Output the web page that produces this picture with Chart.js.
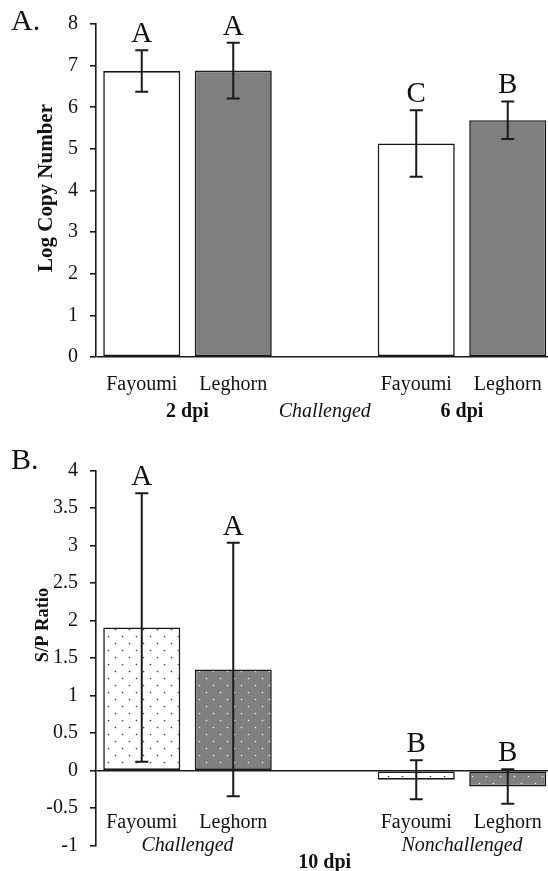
<!DOCTYPE html>
<html><head><meta charset="utf-8">
<script src="https://cdn.jsdelivr.net/npm/chart.js@4"></script>
<style>
html,body{margin:0;padding:0;background:#fff;overflow:hidden;width:548px;height:871px;position:relative;}
canvas{position:absolute;left:0;}
#cA{top:0}
#cB{top:430px}
</style></head><body>
<canvas id="cA" width="556" height="430"></canvas>
<canvas id="cB" width="556" height="441"></canvas>
<script>
// ---- data ----
const categories = ['Fayoumi', 'Leghorn', '', 'Fayoumi', 'Leghorn'];

// Panel A: Log copy number (challenged, 2 dpi / 6 dpi)
const copyNumber    = [6.87, 6.88, null, 5.13, 5.69];
const copyNumberErr = [0.50, 0.67, null, 0.80, 0.45];
const copyLetters   = ['A', 'A', '', 'C', 'B'];
const copyRange     = [0, 8, 1];          // min, max, step
const copyGroups    = ['2 dpi', 'Challenged', '6 dpi'];

// Panel B: S/P ratio (10 dpi, challenged / nonchallenged)
const spRatio       = [1.91, 1.35, null, -0.12, -0.21];
const spRatioErr    = [1.79, 1.69, null, 0.26, 0.23];
const spLetters     = ['A', 'A', '', 'B', 'B'];
const spRange       = [-1, 4, 0.5];
const spGroups      = ['Challenged', '10 dpi', 'Nonchallenged'];

// ---- styling ----
const FONT = "'Liberation Serif','Times New Roman',serif";
const INK = '#1a1a1a';
const GRAY = '#7f7f7f';

function makePattern(targetCtx, bg, dot) {
  const c = document.createElement('canvas');
  c.width = 14; c.height = 14;
  const g = c.getContext('2d');
  g.fillStyle = bg; g.fillRect(0, 0, 14, 14);
  g.fillStyle = dot;
  g.beginPath(); g.arc(3.5, 3.5, 0.85, 0, Math.PI * 2); g.fill();
  g.beginPath(); g.arc(10.5, 10.5, 0.85, 0, Math.PI * 2); g.fill();
  return targetCtx.createPattern(c, 'repeat');
}

const extras = {
  id: 'extras',
  afterDatasetsDraw(chart, args, o) {
    const {ctx} = chart;
    const x = chart.scales.x, y = chart.scales.y;
    ctx.save();
    // error bars + letters
    ctx.strokeStyle = INK; ctx.lineWidth = 2;
    o.values.forEach((v, i) => {
      if (v == null) return;
      const cx = x.getPixelForValue(i);
      const yt = y.getPixelForValue(v + o.errors[i]);
      const yb = y.getPixelForValue(v - o.errors[i]);
      ctx.beginPath();
      ctx.moveTo(cx, yt); ctx.lineTo(cx, yb);
      ctx.moveTo(cx - 6.5, yt); ctx.lineTo(cx + 6.5, yt);
      ctx.moveTo(cx - 6.5, yb); ctx.lineTo(cx + 6.5, yb);
      ctx.stroke();
      ctx.fillStyle = '#111';
      ctx.font = '29px ' + FONT;
      ctx.textAlign = 'center'; ctx.textBaseline = 'alphabetic';
      ctx.fillText(o.letters[i], cx, yt - 8);
    });
    // category labels
    ctx.fillStyle = '#111';
    ctx.font = '20px ' + FONT;
    ctx.textAlign = 'center';
    categories.forEach((c, i) => {
      if (!c) return;
      ctx.fillText(c, x.getPixelForValue(i), o.catY);
    });
    // group labels
    o.groups.forEach(gr => {
      let px;
      if (gr.pair) px = (x.getPixelForValue(gr.pair[0]) + x.getPixelForValue(gr.pair[1])) / 2;
      else px = x.getPixelForValue(gr.at);
      ctx.font = gr.style + ' 20px ' + FONT;
      ctx.fillText(gr.text, px, gr.y);
    });
    // axis title
    ctx.save();
    ctx.translate(o.titleX, o.titleY);
    ctx.rotate(-Math.PI / 2);
    ctx.font = 'bold ' + o.titleSize + 'px ' + FONT;
    ctx.textAlign = 'center';
    ctx.fillText(o.title, 0, 0);
    ctx.restore();
    // panel label
    ctx.font = '30px ' + FONT;
    ctx.textAlign = 'left';
    ctx.fillText(o.panel, 11, o.panelY);
    ctx.restore();
  }
};

function yScale(range) {
  return {
    min: range[0], max: range[1],
    ticks: {
      stepSize: range[2], color: '#111', font: { family: FONT, size: 20 }, padding: 12,
      callback: v => String(Math.round(v * 100) / 100)
    },
    grid: {
      display: true, drawOnChartArea: true, drawTicks: true, tickLength: 6,
      color: c => (c.tick && c.tick.value === 0) ? INK : 'rgba(0,0,0,0)',
      lineWidth: 1.6, tickColor: INK, tickWidth: 1.6
    },
    border: { display: true, color: INK, width: 1.6 },
    afterFit: s => { s.width = 96; }
  };
}

function buildChart(id, values, errors, letters, range, bg, pad, pluginOpts) {
  return new Chart(document.getElementById(id), {
    type: 'bar',
    data: {
      labels: categories,
      datasets: [{
        data: values,
        backgroundColor: bg,
        borderColor: INK,
        borderWidth: 1.6,
        borderSkipped: false,
        barPercentage: 0.842,
        categoryPercentage: 1.0
      }]
    },
    options: {
      responsive: false,
      animation: false,
      layout: { padding: pad },
      scales: {
        x: { display: false },
        y: yScale(range)
      },
      plugins: {
        legend: { display: false },
        tooltip: { enabled: false },
        extras: Object.assign({ values, errors, letters }, pluginOpts)
      }
    },
    plugins: [extras]
  });
}

buildChart('cA', copyNumber, copyNumberErr, copyLetters, copyRange,
  ['#ffffff', GRAY, '#ffffff', '#ffffff', GRAY],
  { left: 0, top: 24, right: 2.5, bottom: 73 },
  {
    catY: 390,
    groups: [
      { text: copyGroups[0], pair: [0, 1], style: 'bold', y: 417 },
      { text: copyGroups[1], at: 2, style: 'italic', y: 417 },
      { text: copyGroups[2], pair: [3, 4], style: 'bold', y: 417 }
    ],
    title: 'Log Copy Number', titleSize: 21, titleX: 51.5, titleY: 188,
    panel: 'A.', panelY: 30
  });

const ctxB = document.getElementById('cB').getContext('2d');
const patW = makePattern(ctxB, '#ffffff', '#444444');
const patG = makePattern(ctxB, GRAY, '#e6e6e6');
buildChart('cB', spRatio, spRatioErr, spLetters, spRange,
  [patW, patG, patW, patW, patG],
  { left: 0, top: 40.7, right: 2.5, bottom: 25.3 },
  {
    catY: 398,
    groups: [
      { text: spGroups[0], pair: [0, 1], style: 'italic', y: 421 },
      { text: spGroups[1], at: 2, style: 'bold', y: 438 },
      { text: spGroups[2], pair: [3, 4], style: 'italic', y: 421 }
    ],
    title: 'S/P Ratio', titleSize: 18.5, titleX: 47.5, titleY: 195,
    panel: 'B.', panelY: 39
  });
</script>
</body></html>
